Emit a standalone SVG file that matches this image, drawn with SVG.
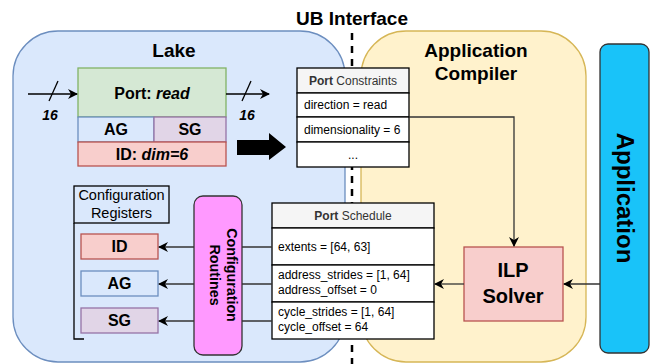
<svg xmlns="http://www.w3.org/2000/svg" width="652" height="364" viewBox="0 0 652 364">
  <defs>
    <style>
      text { font-family: "Liberation Sans", Arial, sans-serif; fill: #000; }
      .b { font-weight: bold; }
      .title { font-size: 19px; font-weight: bold; text-anchor: middle; }
      .lbl { font-size: 16px; font-weight: bold; text-anchor: middle; }
      .row { font-size: 12px; }
      .hdr { font-size: 12px; fill: #333; text-anchor: middle; }
      .cell { fill: #fff; stroke: #000; stroke-width: 1.3; }
      .head { fill: #f5f5f5; stroke: #000; stroke-width: 1.3; }
      .wire { fill: none; stroke: #333; stroke-width: 1.3; }
      .bus { fill: none; stroke: #000; stroke-width: 1.3; }
    </style>
    <marker id="arr" viewBox="0 0 10 10" refX="9" refY="5" markerWidth="10" markerHeight="10" markerUnits="userSpaceOnUse" orient="auto">
      <path d="M0,0 L10,5 L0,10 L3,5 Z" fill="#000"/>
    </marker>
  </defs>

  <!-- containers -->
  <g id="lake">
    <rect x="13" y="31" width="332" height="331" rx="45" fill="#dae8fc" stroke="#6c8ebf" stroke-width="1.3"/>
    <text class="title" x="174" y="57">Lake</text>
  </g>
  <g id="app-compiler">
    <rect x="361" y="31" width="225" height="331" rx="45" fill="#fff2cc" stroke="#d6b656" stroke-width="1.3"/>
    <text class="title" x="476" y="57">Application</text>
    <text class="title" x="476" y="80">Compiler</text>
  </g>
  <g id="application">
    <rect x="600" y="44" width="49" height="309" rx="8" fill="#19c3f9" stroke="#333" stroke-width="1.3"/>
    <text transform="translate(617 198) rotate(90)" font-size="24" font-weight="bold" text-anchor="middle">Application</text>
  </g>

  <!-- UB interface divider -->
  <g id="ub-interface">
    <text class="title" x="352" y="25">UB Interface</text>
    <line x1="352" y1="33" x2="352" y2="364" stroke="#000" stroke-width="2.5" stroke-dasharray="7 6"/>
  </g>

  <!-- port with generators -->
  <g id="port">
    <rect x="78" y="68" width="148" height="49" fill="#d5e8d4" stroke="#82b366" stroke-width="1.3"/>
    <text class="lbl" x="152" y="99">Port: <tspan font-style="italic">read</tspan></text>
  </g>
  <g id="port-ag">
    <rect x="78" y="117" width="76" height="25" fill="#dae8fc" stroke="#6c8ebf" stroke-width="1.3"/>
    <text class="lbl" x="116" y="135">AG</text>
  </g>
  <g id="port-sg">
    <rect x="154" y="117" width="72" height="25" fill="#e1d5e7" stroke="#9673a6" stroke-width="1.3"/>
    <text class="lbl" x="190" y="135">SG</text>
  </g>
  <g id="port-id">
    <rect x="78" y="142" width="148" height="24" fill="#f8cecc" stroke="#b85450" stroke-width="1.3"/>
    <text class="lbl" x="152" y="160">ID: <tspan font-style="italic">dim=6</tspan></text>
  </g>

  <!-- port constraints table -->
  <g id="port-constraints">
    <rect class="head" x="297" y="68" width="112" height="25"/>
    <rect class="cell" x="297" y="93" width="112" height="24"/>
    <rect class="cell" x="297" y="117" width="112" height="25"/>
    <rect class="cell" x="297" y="142" width="112" height="25"/>
    <text class="hdr" x="353" y="85"><tspan font-weight="bold">Port</tspan> Constraints</text>
    <text class="row" x="304" y="109">direction = read</text>
    <text class="row" x="304" y="134">dimensionality = 6</text>
    <text class="row" x="353" y="159" text-anchor="middle">...</text>
  </g>

  <!-- ILP solver -->
  <g id="ilp-solver">
    <rect x="464" y="247" width="99" height="74" fill="#f8cecc" stroke="#b85450" stroke-width="1.3"/>
    <text x="513" y="277" font-size="20" font-weight="bold" text-anchor="middle">ILP</text>
    <text x="513" y="303" font-size="20" font-weight="bold" text-anchor="middle">Solver</text>
  </g>

  <!-- port schedule table -->
  <g id="port-schedule">
    <rect class="head" x="272" y="203" width="162" height="25"/>
    <rect class="cell" x="272" y="228" width="162" height="37"/>
    <rect class="cell" x="272" y="265" width="162" height="37"/>
    <rect class="cell" x="272" y="302" width="162" height="37"/>
    <text class="hdr" x="353" y="220"><tspan font-weight="bold">Port</tspan> Schedule</text>
    <text class="row" x="278" y="251">extents = [64, 63]</text>
    <text class="row" x="278" y="279">address_strides = [1, 64]</text>
    <text class="row" x="278" y="294">address_offset = 0</text>
    <text class="row" x="278" y="316">cycle_strides = [1, 64]</text>
    <text class="row" x="278" y="331">cycle_offset = 64</text>
  </g>

  <!-- configuration registers -->
  <g id="config-registers">
    <rect x="74" y="186" width="95" height="37" fill="none" stroke="#000" stroke-width="1.3"/>
    <path d="M74,223 V339 H84" fill="none" stroke="#000" stroke-width="1.3"/>
    <text x="121.5" y="200" font-size="14.5" text-anchor="middle">Configuration</text>
    <text x="121.5" y="218" font-size="14.5" text-anchor="middle">Registers</text>
  </g>
  <g id="reg-id">
    <rect x="81" y="234" width="77" height="25" fill="#f8cecc" stroke="#b85450" stroke-width="1.3"/>
    <text class="lbl" x="119.5" y="252">ID</text>
  </g>
  <g id="reg-ag">
    <rect x="81" y="271" width="77" height="25" fill="#dae8fc" stroke="#6c8ebf" stroke-width="1.3"/>
    <text class="lbl" x="119.5" y="289">AG</text>
  </g>
  <g id="reg-sg">
    <rect x="81" y="308" width="77" height="25" fill="#e1d5e7" stroke="#9673a6" stroke-width="1.3"/>
    <text class="lbl" x="119.5" y="326">SG</text>
  </g>

  <!-- connectors -->
  <g id="connectors">
    <!-- data buses, 16 bits wide -->
    <line class="bus" x1="28" y1="94" x2="77" y2="94" marker-end="url(#arr)"/>
    <line class="bus" x1="49" y1="101" x2="58" y2="81"/>
    <text x="50" y="120" font-size="14" font-weight="bold" font-style="italic" text-anchor="middle">16</text>
    <line class="bus" x1="226" y1="94" x2="269" y2="94" marker-end="url(#arr)"/>
    <line class="bus" x1="242" y1="101" x2="251" y2="81"/>
    <text x="247" y="120" font-size="14" font-weight="bold" font-style="italic" text-anchor="middle">16</text>
    <!-- port to constraints -->
    <path d="M237,140 H269 V133 L286,147 L269,160 V155 H237 Z" fill="#000"/>
    <!-- constraints to solver -->
    <path class="wire" d="M409,117 H514 V246" marker-end="url(#arr)"/>
    <!-- application to solver, solver to schedule -->
    <line class="wire" x1="600" y1="284" x2="564" y2="284" marker-end="url(#arr)"/>
    <line class="wire" x1="464" y1="284" x2="435" y2="284" marker-end="url(#arr)"/>
    <!-- schedule to registers -->
    <line class="wire" x1="272" y1="247" x2="159" y2="247" marker-end="url(#arr)"/>
    <line class="wire" x1="272" y1="284" x2="159" y2="284" marker-end="url(#arr)"/>
    <line class="wire" x1="272" y1="321" x2="159" y2="321" marker-end="url(#arr)"/>
  </g>

  <!-- configuration routines, drawn over the wires -->
  <g id="config-routines">
    <rect x="194" y="196" width="48" height="159" rx="9" fill="#ff99ff" stroke="#333" stroke-width="1.3"/>
    <text transform="translate(227 275) rotate(90)" font-size="14.3" font-weight="bold" text-anchor="middle">Configuration</text>
    <text transform="translate(210 275) rotate(90)" font-size="14.3" font-weight="bold" text-anchor="middle">Routines</text>
  </g>
</svg>
